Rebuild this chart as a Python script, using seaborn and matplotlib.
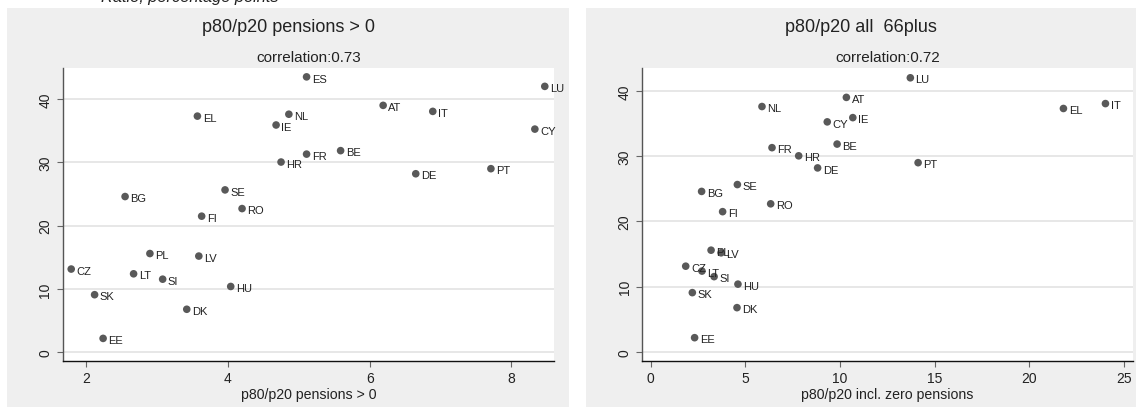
import matplotlib
matplotlib.use("Agg")
import matplotlib.pyplot as plt
from matplotlib.patches import Rectangle
import numpy as np
import pandas as pd
import seaborn as sns

# Country codes
countries = ["ES", "LU", "AT", "IT", "EL", "NL", "IE", "CY", "BE", "FR", "HR",
             "PT", "DE", "SE", "BG", "RO", "FI", "PL", "LV", "CZ", "LT", "SI",
             "HU", "SK", "DK", "EE"]

# Outcome (vertical axis, both panels)
outcome = [43.5, 42.0, 39.0, 38.05, 37.3, 37.6, 35.9, 35.25, 31.85, 31.3, 30.05,
           29.0, 28.2, 25.65, 24.6, 22.7, 21.5, 15.6, 15.2, 13.15, 12.4, 11.55,
           10.4, 9.1, 6.8, 2.2]

# p80/p20 ratio among positive pensions
p80p20_pos = [5.11, 8.47, 6.19, 6.89, 3.57, 4.86, 4.68, 8.33, 5.59, 5.11, 4.75,
              7.71, 6.65, 3.96, 2.55, 4.20, 3.63, 2.90, 3.59, 1.79, 2.67, 3.08,
              4.04, 2.12, 3.42, 2.24]

# p80/p20 ratio including zero pensions, all aged 66+
p80p20_all = [np.nan, 13.72, 10.34, 24.03, 21.81, 5.88, 10.68, 9.33, 9.85, 6.41,
              7.82, 14.13, 8.82, 4.58, 2.69, 6.34, 3.80, 3.19, 3.72, 1.85, 2.71,
              3.35, 4.61, 2.20, 4.56, 2.32]

titles = ["p80/p20 pensions > 0", "p80/p20 all  66plus"]
subtitles = ["correlation:0.73", "correlation:0.72"]
xlabels = ["p80/p20 pensions > 0", "p80/p20 incl. zero pensions"]
header = "Ratio, percentage points"

df = pd.DataFrame({"country": countries, "y": outcome,
                   "x_pos": p80p20_pos, "x_all": p80p20_all})

sns.set_style("ticks")
plt.rcParams["font.family"] = ["Liberation Sans", "DejaVu Sans"]

W, H = 1139, 410
fig = plt.figure(figsize=(W / 100, H / 100), dpi=100)
fig.patch.set_facecolor("white")

panel_bg = "#efefef"
dot = "#595959"

def fx(px):
    return px / W

def fy(py):
    return 1 - py / H

# Grey panel backgrounds
for x0, x1 in [(7, 569), (586, 1136)]:
    fig.patches.append(Rectangle((fx(x0), fy(408)), fx(x1 - x0), (408 - 9) / H,
                                 transform=fig.transFigure, facecolor=panel_bg,
                                 edgecolor="none", zorder=-10))

fig.text(fx(101), fy(2), header, fontsize=11.8, style="italic",
         ha="left", va="baseline", color="#222222")

specs = [
    dict(rect=(62.7, 554.0), xcol="x_pos", xlim=(1.67, 8.60), ylim=(-1.37, 44.9),
         xticks=[2, 4, 6, 8], panel=(7, 569)),
    dict(rect=(642.0, 1132.7), xcol="x_all", xlim=(-0.46, 25.47), ylim=(-1.37, 43.5),
         xticks=[0, 5, 10, 15, 20, 25], panel=(586, 1136)),
]

for i, s in enumerate(specs):
    l, r = s["rect"]
    ax = fig.add_axes([fx(l), fy(362), fx(r - l), (362 - 69) / H])
    ax.set_zorder(1)
    ax.set_facecolor("white")
    sub = df.dropna(subset=[s["xcol"]])
    sns.scatterplot(data=sub, x=s["xcol"], y="y", ax=ax, color=dot, s=30,
                    edgecolor="none", linewidth=0, zorder=3)
    for _, row in sub.iterrows():
        ax.annotate(row["country"], (row[s["xcol"]], row["y"]),
                    xytext=(3.8, -1.2), textcoords="offset points",
                    ha="left", va="center", fontsize=8, color="#222222")
    ax.set_xlim(*s["xlim"])
    ax.set_ylim(*s["ylim"])
    ax.set_xticks(s["xticks"])
    ax.set_yticks([0, 10, 20, 30, 40])
    ax.yaxis.grid(True, color="#e3e3e3", linewidth=1.2)
    ax.set_axisbelow(True)
    for sp in ["top", "right"]:
        ax.spines[sp].set_visible(False)
    ax.spines["left"].set_color("#555555")
    ax.spines["bottom"].set_color("#111111")
    ax.spines["left"].set_linewidth(1.0)
    ax.spines["bottom"].set_linewidth(1.0)
    ax.tick_params(axis="both", direction="out", length=4, width=0.8,
                   color="#666666", labelsize=10, labelcolor="#222222")
    for lab in ax.get_yticklabels():
        lab.set_rotation(90)
        lab.set_va("center")
    ax.set_xlabel(xlabels[i], fontsize=10.2, color="#222222", labelpad=1)
    ax.set_ylabel("")
    # Titles: main title centered on panel, subtitle centered on plot area
    p0, p1 = s["panel"]
    fig.text(fx((p0 + p1) / 2), fy(28), titles[i], fontsize=13,
             ha="center", va="center", color="#222222")
    fig.text(fx((l + r) / 2), fy(58.5), subtitles[i], fontsize=11,
             ha="center", va="center", color="#222222")

fig.savefig("out.png", dpi=100)
